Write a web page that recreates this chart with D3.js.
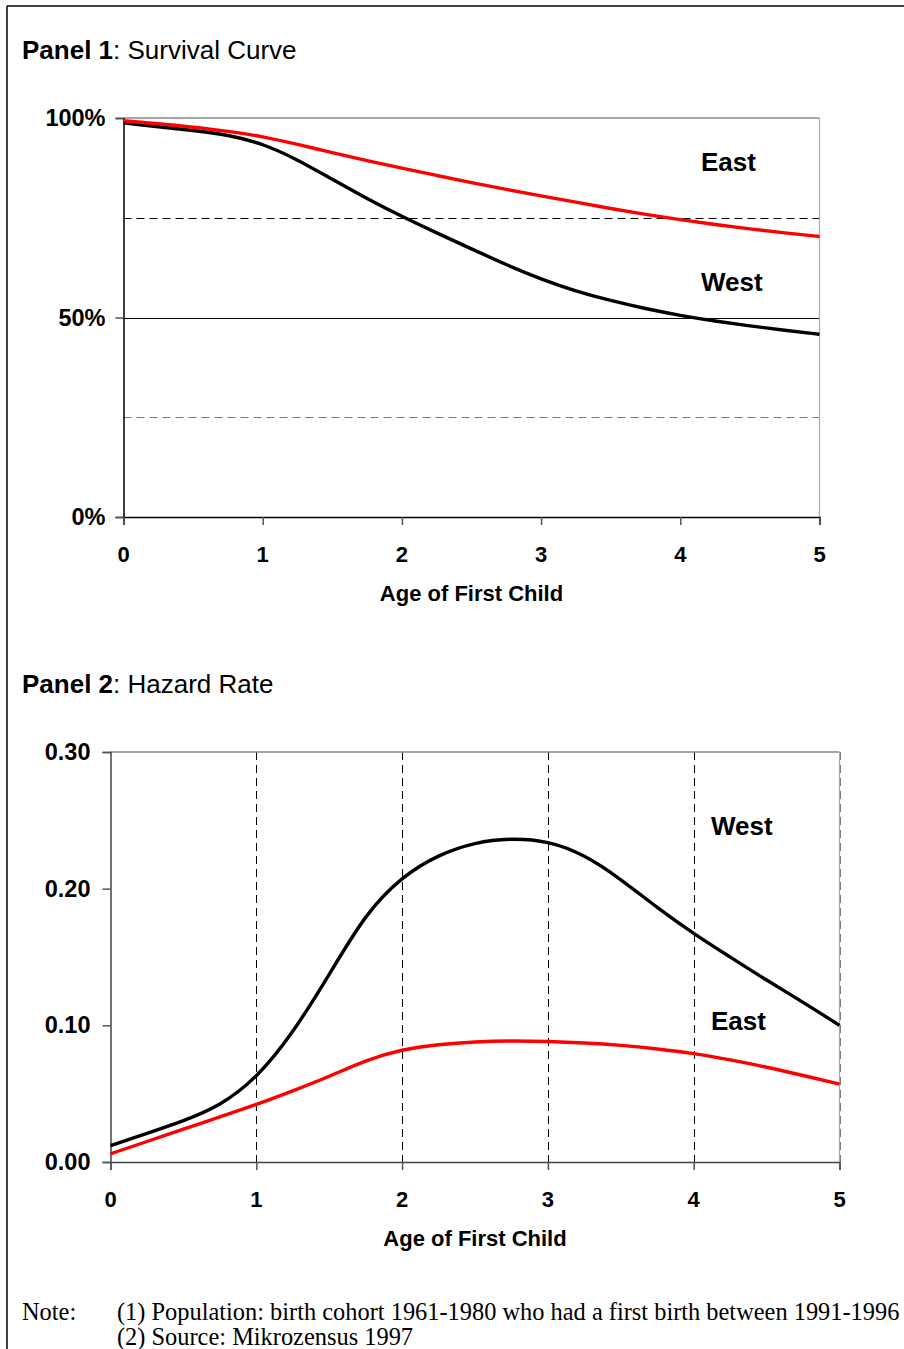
<!DOCTYPE html>
<html>
<head>
<meta charset="utf-8">
<script src="https://cdn.jsdelivr.net/npm/d3@7/dist/d3.min.js"></script>
<style>
  html, body { margin: 0; padding: 0; background: #fff; }
  svg { display: block; }
  text { font-family: "Liberation Sans", Arial, sans-serif; fill: #000; }
</style>
</head>
<body>
<svg id="chart" width="904" height="1349"></svg>
<script>
// Years since first birth
const ages = [0, 0.25, 0.5, 0.75, 1, 1.25, 1.5, 1.75, 2, 2.25, 2.5, 2.75, 3, 3.25, 3.5, 3.75, 4, 4.25, 4.5, 4.75, 5];

// Panel 1: share still without a second child (%)
const survivalWest = [98.8, 97.8, 96.9, 95.8, 93.6, 89.6, 84.6, 79.8, 75.3, 71.2, 67.2, 63.2, 59.6, 56.6, 54.2, 52.2, 50.5, 49.1, 47.9, 46.8, 45.8];
const survivalEast = [99.3, 98.6, 97.7, 96.7, 95.4, 93.4, 91.3, 89.3, 87.4, 85.6, 83.8, 82.1, 80.5, 78.9, 77.3, 75.8, 74.5, 73.3, 72.2, 71.2, 70.3];

// Panel 2: hazard rate
const hazardWest = [0.012, 0.021, 0.030, 0.041, 0.061, 0.094, 0.137, 0.182, 0.209, 0.225, 0.234, 0.237, 0.235, 0.225, 0.207, 0.186, 0.167, 0.150, 0.133, 0.117, 0.100];
const hazardEast = [0.006, 0.015, 0.024, 0.033, 0.042, 0.052, 0.0625, 0.0745, 0.0825, 0.086, 0.088, 0.0887, 0.0882, 0.0872, 0.0855, 0.0828, 0.0795, 0.0748, 0.0695, 0.0633, 0.057];

const xTicks = [0, 1, 2, 3, 4, 5];
const survivalTicks = [0, 50, 100];
const survivalTickLabels = ["0%", "50%", "100%"];
const hazardTicks = [0, 0.1, 0.2, 0.3];
const hazardTickLabels = ["0.00", "0.10", "0.20", "0.30"];

const svg = d3.select("#chart");

// Page frame (top and left rules)
svg.append("line").attr("x1", 7).attr("x2", 904).attr("y1", 6).attr("y2", 6)
  .attr("stroke", "#000").attr("stroke-width", 1.5);
svg.append("line").attr("x1", 7).attr("x2", 7).attr("y1", 6).attr("y2", 1349)
  .attr("stroke", "#000").attr("stroke-width", 1.5);

function panelTitle(y, bold, rest) {
  const t = svg.append("text").attr("x", 22).attr("y", y).attr("font-size", 26);
  t.append("tspan").attr("font-weight", "bold").text(bold);
  t.append("tspan").text(rest);
}

function drawPanel(cfg) {
  const x = d3.scaleLinear().domain([0, 5]).range([cfg.left, cfg.right]);
  const y = d3.scaleLinear().domain(cfg.yDomain).range([cfg.bottom, cfg.top]);
  const g = svg.append("g");

  // horizontal reference lines
  cfg.hLines.forEach(h => {
    g.append("line")
      .attr("x1", x(0)).attr("x2", x(5))
      .attr("y1", Math.round(y(h.v)) + 0.5).attr("y2", Math.round(y(h.v)) + 0.5)
      .attr("stroke", h.color).attr("stroke-width", 1)
      .attr("stroke-dasharray", h.dash || null);
  });
  // vertical reference lines
  cfg.vLines.forEach(v => {
    g.append("line")
      .attr("x1", Math.round(x(v)) + 0.5).attr("x2", Math.round(x(v)) + 0.5)
      .attr("y1", y(cfg.yDomain[1])).attr("y2", y(cfg.yDomain[0]))
      .attr("stroke", v === 5 ? "#777" : "#000").attr("stroke-width", 1)
      .attr("stroke-dasharray", "8,5");
  });

  // plot frame: grey top and right
  g.append("line").attr("x1", x(0)).attr("x2", x(5))
    .attr("y1", y(cfg.yDomain[1])).attr("y2", y(cfg.yDomain[1]))
    .attr("stroke", "#888").attr("stroke-width", 1.5);
  g.append("line").attr("x1", x(5)).attr("x2", x(5))
    .attr("y1", y(cfg.yDomain[1])).attr("y2", y(cfg.yDomain[0]))
    .attr("stroke", "#aaa").attr("stroke-width", 1.2);

  // axes
  const yAxis = d3.axisLeft(y).tickValues(cfg.yTicks).tickSize(8).tickFormat("");
  const yg = g.append("g").attr("transform", `translate(${x(0)},0)`).call(yAxis);
  const xAxis = d3.axisBottom(x).tickValues(xTicks).tickSize(8).tickFormat("");
  const xg = g.append("g").attr("transform", `translate(0,${y(cfg.yDomain[0])})`).call(xAxis);
  [yg, xg].forEach(a => {
    a.select(".domain").attr("stroke", cfg.axisColor).attr("stroke-width", 1.5);
    a.selectAll(".tick line").attr("stroke", "#555").attr("stroke-width", 1.5);
  });

  // tick labels
  g.selectAll(".ylab").data(cfg.yTicks).join("text")
    .attr("x", x(0) - cfg.yLabelGap).attr("y", d => y(d) + 8)
    .attr("text-anchor", "end").attr("font-size", 23.5).attr("font-weight", "bold")
    .text((d, i) => cfg.yTickLabels[i]);
  g.selectAll(".xlab").data(xTicks).join("text")
    .attr("x", d => x(d)).attr("y", y(cfg.yDomain[0]) + 45)
    .attr("text-anchor", "middle").attr("font-size", 22).attr("font-weight", "bold")
    .text(d => d);
  g.append("text")
    .attr("x", (x(0) + x(5)) / 2).attr("y", y(cfg.yDomain[0]) + 84)
    .attr("text-anchor", "middle").attr("font-size", 22).attr("font-weight", "bold")
    .text("Age of First Child");

  // series
  const line = d3.line().x((d, i) => x(ages[i])).y(d => y(d)).curve(d3.curveBasis);
  cfg.series.forEach(s => {
    g.append("path").datum(s.values)
      .attr("d", line).attr("fill", "none")
      .attr("stroke", s.color).attr("stroke-width", 3.4)
      .attr("stroke-linejoin", "round");
  });

  // series labels
  cfg.labels.forEach(l => {
    g.append("text").attr("x", l.x).attr("y", l.y)
      .attr("font-size", 26).attr("font-weight", "bold").text(l.text);
  });
}

panelTitle(59, "Panel 1", ": Survival Curve");
drawPanel({
  left: 123.5, right: 819.5, top: 118, bottom: 517,
  yDomain: [0, 100],
  yTicks: survivalTicks, yTickLabels: survivalTickLabels, yLabelGap: 18,
  axisColor: "#000",
  hLines: [
    { v: 75, color: "#000", dash: "8,5" },
    { v: 50, color: "#000" },
    { v: 25, color: "#777", dash: "8,5" }
  ],
  vLines: [],
  series: [
    { values: survivalWest, color: "#000" },
    { values: survivalEast, color: "#ff0000" }
  ],
  labels: [
    { text: "East", x: 701, y: 171 },
    { text: "West", x: 701, y: 291 }
  ]
});

panelTitle(693, "Panel 2", ": Hazard Rate");
drawPanel({
  left: 110.5, right: 839.5, top: 752, bottom: 1162,
  yDomain: [0, 0.3],
  yTicks: hazardTicks, yTickLabels: hazardTickLabels, yLabelGap: 20,
  axisColor: "#444",
  hLines: [],
  vLines: [1, 2, 3, 4, 5],
  series: [
    { values: hazardWest, color: "#000" },
    { values: hazardEast, color: "#ff0000" }
  ],
  labels: [
    { text: "West", x: 711, y: 835 },
    { text: "East", x: 711, y: 1030 }
  ]
});

// Footnotes
const serif = "'Liberation Serif', 'Times New Roman', serif";
const note = svg.append("g");
note.append("text").attr("x", 22).attr("y", 1320).attr("font-size", 24.4).style("font-family", serif).text("Note:");
note.append("text").attr("x", 117).attr("y", 1320).attr("font-size", 24.4).style("font-family", serif)
  .text("(1) Population: birth cohort 1961-1980 who had a first birth between 1991-1996");
note.append("text").attr("x", 117).attr("y", 1345).attr("font-size", 24.4).style("font-family", serif)
  .text("(2) Source: Mikrozensus 1997");
</script>
</body>
</html>
